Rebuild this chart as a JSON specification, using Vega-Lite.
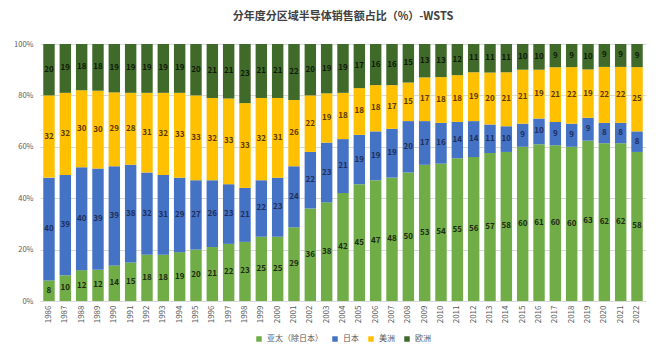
{
  "$schema": "https://vega.github.io/schema/vega-lite/v6.json",
  "width": 660,
  "height": 355,
  "autosize": {"type": "fit", "contains": "padding"},
  "padding": {"left": 13, "right": 14, "top": 11, "bottom": 12},
  "background": "white",
  "title": {
    "text": "分年度分区域半导体销售额占比（%）-WSTS",
    "font": "Noto Sans CJK SC",
    "fontSize": 11,
    "fontWeight": "bold",
    "color": "#404040",
    "anchor": "middle",
    "offset": 18
  },
  "config": {
    "view": {"stroke": null},
    "font": "Noto Sans CJK SC",
    "legend": {"layout": {"bottom": {"anchor": "middle"}}}
  },
  "data": {
    "values": [
      {"year": "1986", "亚太（除日本）": 8, "日本": 40, "美洲": 32, "欧洲": 20},
      {"year": "1987", "亚太（除日本）": 10, "日本": 39, "美洲": 32, "欧洲": 19},
      {"year": "1988", "亚太（除日本）": 12, "日本": 40, "美洲": 30, "欧洲": 18},
      {"year": "1989", "亚太（除日本）": 12, "日本": 39, "美洲": 30, "欧洲": 18},
      {"year": "1990", "亚太（除日本）": 14, "日本": 39, "美洲": 29, "欧洲": 19},
      {"year": "1991", "亚太（除日本）": 15, "日本": 38, "美洲": 28, "欧洲": 19},
      {"year": "1992", "亚太（除日本）": 18, "日本": 32, "美洲": 31, "欧洲": 19},
      {"year": "1993", "亚太（除日本）": 18, "日本": 31, "美洲": 32, "欧洲": 19},
      {"year": "1994", "亚太（除日本）": 19, "日本": 29, "美洲": 33, "欧洲": 19},
      {"year": "1995", "亚太（除日本）": 20, "日本": 27, "美洲": 33, "欧洲": 20},
      {"year": "1996", "亚太（除日本）": 21, "日本": 26, "美洲": 32, "欧洲": 21},
      {"year": "1997", "亚太（除日本）": 22, "日本": 23, "美洲": 33, "欧洲": 21},
      {"year": "1998", "亚太（除日本）": 23, "日本": 21, "美洲": 33, "欧洲": 23},
      {"year": "1999", "亚太（除日本）": 25, "日本": 22, "美洲": 32, "欧洲": 21},
      {"year": "2000", "亚太（除日本）": 25, "日本": 23, "美洲": 31, "欧洲": 21},
      {"year": "2001", "亚太（除日本）": 29, "日本": 24, "美洲": 26, "欧洲": 22},
      {"year": "2002", "亚太（除日本）": 36, "日本": 22, "美洲": 22, "欧洲": 20},
      {"year": "2003", "亚太（除日本）": 38, "日本": 23, "美洲": 19, "欧洲": 19},
      {"year": "2004", "亚太（除日本）": 42, "日本": 21, "美洲": 18, "欧洲": 19},
      {"year": "2005", "亚太（除日本）": 45, "日本": 19, "美洲": 18, "欧洲": 17},
      {"year": "2006", "亚太（除日本）": 47, "日本": 19, "美洲": 18, "欧洲": 16},
      {"year": "2007", "亚太（除日本）": 48, "日本": 19, "美洲": 17, "欧洲": 16},
      {"year": "2008", "亚太（除日本）": 50, "日本": 20, "美洲": 15, "欧洲": 15},
      {"year": "2009", "亚太（除日本）": 53, "日本": 17, "美洲": 17, "欧洲": 13},
      {"year": "2010", "亚太（除日本）": 54, "日本": 16, "美洲": 18, "欧洲": 13},
      {"year": "2011", "亚太（除日本）": 55, "日本": 14, "美洲": 18, "欧洲": 12},
      {"year": "2012", "亚太（除日本）": 56, "日本": 14, "美洲": 19, "欧洲": 11},
      {"year": "2013", "亚太（除日本）": 57, "日本": 11, "美洲": 20, "欧洲": 11},
      {"year": "2014", "亚太（除日本）": 58, "日本": 10, "美洲": 21, "欧洲": 11},
      {"year": "2015", "亚太（除日本）": 60, "日本": 9, "美洲": 21, "欧洲": 10},
      {"year": "2016", "亚太（除日本）": 61, "日本": 10, "美洲": 19, "欧洲": 10},
      {"year": "2017", "亚太（除日本）": 60, "日本": 9, "美洲": 21, "欧洲": 9},
      {"year": "2018", "亚太（除日本）": 60, "日本": 9, "美洲": 22, "欧洲": 9},
      {"year": "2019", "亚太（除日本）": 63, "日本": 9, "美洲": 19, "欧洲": 10},
      {"year": "2020", "亚太（除日本）": 62, "日本": 8, "美洲": 22, "欧洲": 9},
      {"year": "2021", "亚太（除日本）": 62, "日本": 8, "美洲": 22, "欧洲": 9},
      {"year": "2022", "亚太（除日本）": 58, "日本": 8, "美洲": 25, "欧洲": 9}
    ]
  },
  "transform": [
    {"fold": ["亚太（除日本）", "日本", "美洲", "欧洲"], "as": ["region", "value"]},
    {"calculate": "indexof(['亚太（除日本）','日本','美洲','欧洲'], datum.region)", "as": "ord"},
    {"stack": "value", "groupby": ["year"], "sort": [{"field": "ord", "order": "ascending"}], "offset": "normalize", "as": ["v0", "v1"]},
    {"calculate": "(datum.v0 + datum.v1) / 2", "as": "vmid"}
  ],
  "encoding": {
    "x": {
      "field": "year",
      "type": "ordinal",
      "title": null,
      "scale": {"paddingInner": 0.3, "paddingOuter": 0.2},
      "axis": {
        "labelAngle": -90,
        "labelFontSize": 8,
        "labelColor": "#595959",
        "ticks": false,
        "domain": true,
        "domainColor": "#D9D9D9",
        "labelPadding": 4
      }
    }
  },
  "layer": [
    {
      "mark": {"type": "bar"},
      "encoding": {
        "y": {
          "field": "v0",
          "type": "quantitative",
          "title": null,
          "scale": {"domain": [0, 1]},
          "axis": {
            "format": ".0%",
            "values": [0, 0.1, 0.2, 0.3, 0.4, 0.5, 0.6, 0.7, 0.8, 0.9, 1],
            "labelFontSize": 7.5,
            "labelColor": "#595959",
            "ticks": false,
            "domain": false,
            "gridColor": "#D9D9D9",
            "labelPadding": 7
          }
        },
        "y2": {"field": "v1"},
        "color": {
          "field": "region",
          "type": "nominal",
          "title": null,
          "sort": ["亚太（除日本）", "日本", "美洲", "欧洲"],
          "scale": {
            "domain": ["亚太（除日本）", "日本", "美洲", "欧洲"],
            "range": ["#70AD47", "#4472C4", "#FFC000", "#3F6A2A"]
          },
          "legend": {
            "orient": "bottom",
            "direction": "horizontal",
            "symbolType": "square",
            "symbolSize": 30,
            "labelFontSize": 8,
            "labelColor": "#595959",
            "columnPadding": 8,
            "offset": 12
          }
        }
      }
    },
    {
      "mark": {"type": "text", "fontSize": 8, "fontWeight": "bold", "baseline": "middle"},
      "encoding": {
        "y": {"field": "vmid", "type": "quantitative"},
        "text": {"field": "value", "type": "quantitative"},
        "color": {
          "field": "region",
          "type": "nominal",
          "scale": {
            "domain": ["亚太（除日本）", "日本", "美洲", "欧洲"],
            "range": ["#1E2A12", "#1F2F5A", "#5A3A00", "#101A08"]
          },
          "legend": null
        }
      }
    }
  ],
  "resolve": {"scale": {"color": "independent"}}
}
